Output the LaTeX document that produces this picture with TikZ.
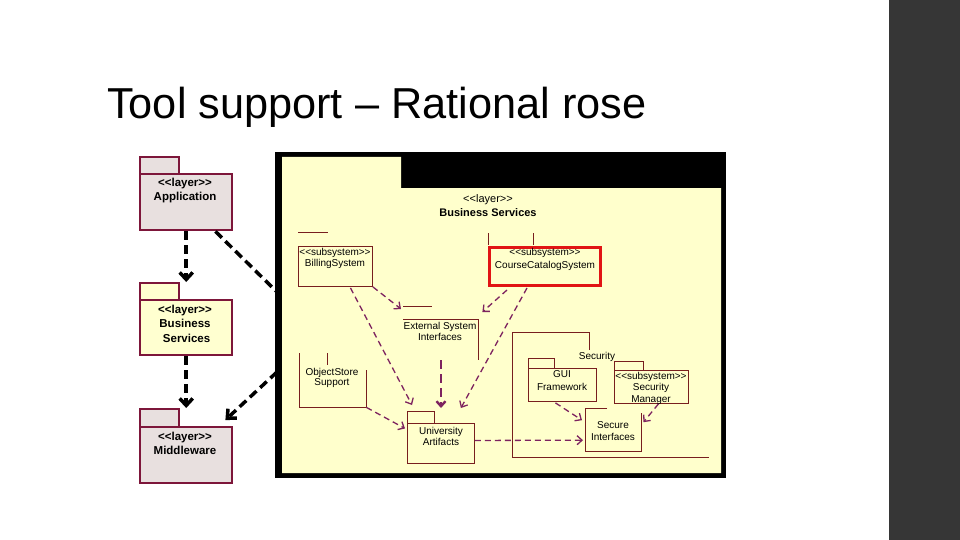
\documentclass[tikz,border=0pt]{standalone}
\usepackage{fontspec}
\setmainfont{Liberation Sans}[Ligatures=TeXOff]
\usetikzlibrary{arrows.meta,calc}
\definecolor{maroonL}{RGB}{125,22,58}
\definecolor{pkgGray}{RGB}{232,224,223}
\definecolor{pkgYel}{RGB}{255,255,208}
\definecolor{roseYel}{RGB}{255,255,204}
\definecolor{lineRed}{RGB}{120,30,30}
\definecolor{arrPur}{RGB}{125,35,95}
\definecolor{barGray}{RGB}{54,54,54}
\definecolor{ccRed}{RGB}{225,20,20}
\begin{document}
\begin{tikzpicture}[x=1pt,y=-1pt,
  lpkg/.style={draw=maroonL, line width=2.4pt, fill=pkgGray, inner sep=0pt, anchor=north west},
  lbl/.style={font=\fontsize{11.5}{14.5}\selectfont\bfseries, align=center, inner sep=0pt},
  ilbl/.style={font=\fontsize{10}{11}\selectfont, align=center, inner sep=0pt},
  ibox/.style={draw=lineRed, line width=0.9pt, inner sep=0pt, anchor=north west},
  ghost/.style={inner sep=0pt, anchor=north west},
  iline/.style={draw=lineRed, line width=0.9pt},
  dep/.style={draw=black, line width=3.5pt, dash pattern=on 9pt off 5pt},
  deptip/.style={-{Straight Barb[length=7pt,width=13pt]}},
  idep/.style={draw=arrPur, line width=1.3pt, dash pattern=on 6pt off 4pt, -{Straight Barb[length=5pt,width=9pt]}}
]
\useasboundingbox (0,0) rectangle (960,540);
\fill[white] (0,0) rectangle (960,540);
\fill[barGray] (889,0) rectangle (960,540);

% title
\node[anchor=base west, inner sep=0pt, font=\fontsize{43.3}{50}\selectfont] (title) at (107,119) {Tool support – Rational rose};

% left layer packages
\node[lpkg, minimum width=39pt, minimum height=17pt] (appTab) at (139,156) {};
\node[lpkg, minimum width=92pt, minimum height=56pt] (app) at (139,173) {};
\node[lbl] (appT) at (185,190.5) {<<layer>>\\Application};

\node[lpkg, fill=pkgYel, minimum width=39pt, minimum height=17pt] (busTab) at (139,282) {};
\node[lpkg, fill=pkgYel, minimum width=92pt, minimum height=55pt] (bus) at (139,299) {};
\node[lbl] (busT) at (185,323.5) {<<layer>>\\Business\\\ Services};

\node[lpkg, minimum width=39pt, minimum height=18pt] (midTab) at (139,408) {};
\node[lpkg, minimum width=92pt, minimum height=56pt] (mid) at (139,426) {};
\node[lbl] (midT) at (185,443.5) {<<layer>>\\Middleware};

% big Business Services package
\node[fill=black, inner sep=0pt, minimum width=451pt, minimum height=326pt, anchor=north west] (bsframe) at (275,152) {};
\fill[roseYel] (282,157) -- (401,157) -- (401,188) -- (721,188) -- (721,473) -- (282,473) -- cycle;
\node[font=\fontsize{11}{14}\selectfont, align=center, inner sep=0pt] (bsT) at (488,206) {<<layer>>\\\textbf{Business Services}};
\coordinate (bsIn) at (277,292);
\coordinate (bsOut) at (277,372);

% left dependencies
\draw[dep, deptip] (app.south) -- (busTab.north -| app.south);
\draw[dep, deptip] (bus.south) -- (midTab.north -| bus.south);
\draw[dep] ($(app.south east)+(-18,0)$) -- (bsIn);
\draw[dep, deptip] (bsOut) -- ($(mid.north east)+(-8,-6)$);

% Billing System
\node[ibox, minimum width=74pt, minimum height=40pt] (bill) at (298,246) {};
\draw[iline] (298,232) -- (328,232);
\node[ilbl] (billT) at (335,258) {<<subsystem>>\\BillingSystem};

% Course Catalog System
\node[draw=ccRed, line width=3pt, inner sep=0pt, anchor=north west, minimum width=111pt, minimum height=38pt] (cc) at (488,246) {};
\draw[iline] (488,233) -- (488,244.5);
\draw[iline] (533,233) -- (533,244.5);
\node[ilbl, font=\fontsize{10}{12.5}\selectfont] (ccT) at (545,259.5) {<<subsystem>>\\CourseCatalogSystem};

% External System Interfaces
\node[ghost, minimum width=75pt, minimum height=41pt] (ext) at (403,319) {};
\draw[iline] (403,306) -- (432,306);
\draw[iline] (403,319) -- (478,319) -- (478,360);
\node[ilbl] (extT) at (440,331.5) {External System\\Interfaces};

% ObjectStore Support
\node[ghost, minimum width=67pt, minimum height=54pt] (os) at (299,353) {};
\draw[iline] (299,353) -- (299,407) -- (366,407) -- (366,370);
\draw[iline] (327,353) -- (327,365);
\node[ilbl, font=\fontsize{10}{10.5}\selectfont] (osT) at (332,378) {ObjectStore\\Support};

% University Artifacts
\node[ibox, minimum width=27pt, minimum height=12pt] (uaTab) at (407,411) {};
\node[ibox, minimum width=67pt, minimum height=40pt] (ua) at (407,423) {};
\node[ilbl] (uaT) at (441,436.5) {University\\Artifacts};

% Security package
\draw[iline] (589,350) -- (589,332) -- (512,332) -- (512,457) -- (709,457);
\node[ilbl] (secT) at (597,357) {Security};

% GUI Framework
\node[ibox, minimum width=26pt, minimum height=10pt] (guiTab) at (528,358) {};
\node[ibox, minimum width=68pt, minimum height=33pt] (gui) at (528,368) {};
\node[ilbl, font=\fontsize{10}{13}\selectfont] (guiT) at (562,381) {GUI\\Framework};

% Security Manager
\node[ibox, minimum width=29pt, minimum height=9pt] (smTab) at (614,361) {};
\node[ibox, minimum width=74pt, minimum height=33pt] (sm) at (614,370) {};
\node[ilbl, font=\fontsize{10}{11.5}\selectfont] (smT) at (651,388) {<<subsystem>>\\Security\\Manager};

% Secure Interfaces
\node[ghost, minimum width=56pt, minimum height=38pt] (si) at (585,413) {};
\draw[iline] (607,408) -- (585,408) -- (585,451) -- (641,451) -- (641,413);
\node[ilbl, font=\fontsize{10}{12}\selectfont] (siT) at (613,431) {Secure\\Interfaces};

% inner dependencies
\draw[idep] (bill.south east) -- ($(ext.north west)+(-2,-10)$);
\draw[idep] ($(bill.south)+(15,1)$) -- ($(uaTab.north west)+(5,-6)$);
\draw[idep] ($(cc.south west)+(19,3)$) -- ($(ext.north east)+(4,-7)$);
\draw[idep] ($(cc.south west)+(39,1)$) -- ($(ua.north east)+(-14,-15)$);
\draw[idep, line width=2.4pt, dash pattern=on 9pt off 5pt] (ext.south -| uaT) -- ($(uaTab.north -| uaT)+(0,-3)$);
\draw[idep] (os.south east) -- ($(ua.west)+(-2,-15)$);
\draw[idep] ($(ua.east)+(0,-3)$) -- ($(si.west)+(-2,8)$);
\draw[idep] ($(gui.south)+(-7,1)$) -- ($(si.west)+(-3,-12)$);
\draw[idep] ($(sm.south)+(7,0)$) -- ($(si.east)+(2,-10)$);
\end{tikzpicture}
\end{document}
